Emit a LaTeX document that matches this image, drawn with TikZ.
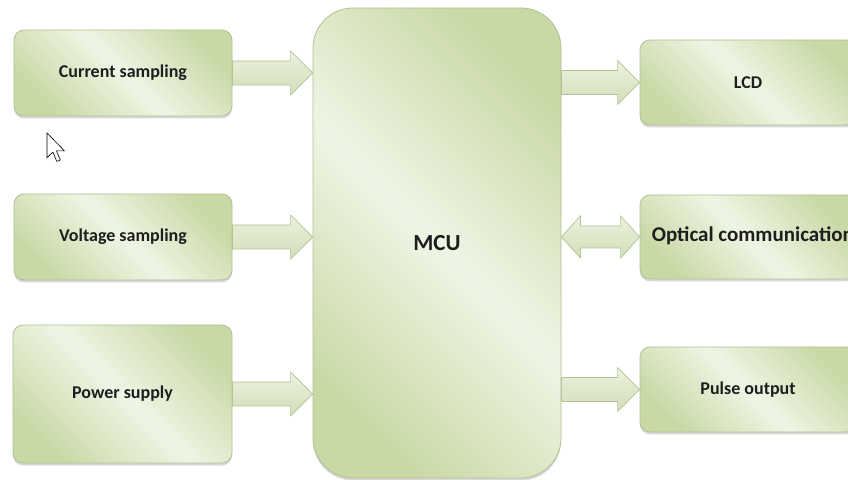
\documentclass[tikz,border=0pt]{standalone}
\usepackage{fontspec}
\setmainfont{Carlito}
\usetikzlibrary{calc,shadows,backgrounds}
\definecolor{boxdark}{HTML}{C9D9A6}
\definecolor{boxlight}{HTML}{EFF5E5}
\definecolor{boxline}{HTML}{B2C193}
\definecolor{arrlight}{HTML}{EBF2DF}
\definecolor{arrdark}{HTML}{D2DEB8}
\definecolor{arrline}{HTML}{B3C294}
\definecolor{txt}{HTML}{1E1E1E}
\tikzset{
  box/.style={draw=boxline, line width=0.8pt, rounded corners=10pt,
    left color=boxdark, right color=boxdark, middle color=boxlight, shading angle=-45,
    drop shadow={opacity=0.3, shadow xshift=0pt, shadow yshift=-2.5pt},
    inner sep=0pt, text=txt, font=\bfseries\fontsize{18}{21}\selectfont},
  bigbox/.style={box, rounded corners=40pt, font=\bfseries\fontsize{23}{26}\selectfont},
  arrowbox/.style={draw=arrline, line width=0.7pt, top color=arrlight, bottom color=arrdark, line join=miter},
  lbl/.style={inner sep=0pt, text=txt},
}
\newcommand{\barrow}[2]{%
  \path[arrowbox] ($(#1)+(0,12)$) -- ($(#2)+(-22,12)$) -- ($(#2)+(-22,22)$) -- (#2)
    -- ($(#2)+(-22,-22)$) -- ($(#2)+(-22,-12)$) -- ($(#1)+(0,-12)$) -- cycle;}
\newcommand{\dblarrow}[2]{%
  \path[arrowbox] (#1) -- ($(#1)+(19,21)$) -- ($(#1)+(19,11)$) -- ($(#2)+(-19,11)$) -- ($(#2)+(-19,21)$) -- (#2)
    -- ($(#2)+(-19,-21)$) -- ($(#2)+(-19,-11)$) -- ($(#1)+(19,-11)$) -- ($(#1)+(19,-21)$) -- cycle;}
\begin{document}
\begin{tikzpicture}[x=1pt,y=1pt]
\useasboundingbox (0,0) rectangle (848,479);

% left boxes
\node[box, minimum width=218pt, minimum height=86pt] (cs) at (123,406) {Current sampling};
\node[box, minimum width=218pt, minimum height=86pt] (vs) at (123,242) {Voltage sampling};
\node[box, minimum width=219pt, minimum height=138pt] (ps) at (122.5,85) {Power supply};
% MCU
\node[bigbox, minimum width=248pt, minimum height=470pt] (mcu) at (437,236) {MCU};
% right boxes
\node[box, minimum width=216pt, minimum height=85pt] (lcd) at (748,396.5) {LCD};
\node[box, minimum width=216pt, minimum height=84pt] (opt) at (748,242) {};
\node[lbl, anchor=west, font=\bfseries\fontsize{21}{24}\selectfont] (optl) at ($(opt.west)+(12,1)$) {Optical communication};
\node[box, minimum width=216pt, minimum height=85pt] (po) at (748,89.5) {Pulse output};

% connectors
\coordinate (t1) at (cs.east -| mcu.west);
\coordinate (t2) at (vs.east -| mcu.west);
\coordinate (t3) at (ps.east -| mcu.west);
\coordinate (s4) at (mcu.east |- lcd.west);
\coordinate (s5) at (mcu.east |- opt.west);
\coordinate (s6) at (mcu.east |- po.west);
\begin{scope}[on background layer]
\fill[white] (0,0) rectangle (848,479);
\barrow{cs.east}{t1}
\barrow{vs.east}{t2}
\barrow{ps.east}{t3}
\barrow{s4}{lcd.west}
\dblarrow{s5}{opt.west}
\barrow{s6}{po.west}
\end{scope}

% mouse cursor
\begin{scope}[shift={(47,346)}, yscale=-1, scale=1.55]
\draw[fill=white, line width=0.6pt, line join=miter] (0,0) -- (0,16) -- (3.8,12.3) -- (6.3,18.3) -- (8.6,17.4) -- (6.1,11.5) -- (11.2,11.5) -- cycle;
\end{scope}
\end{tikzpicture}
\end{document}
